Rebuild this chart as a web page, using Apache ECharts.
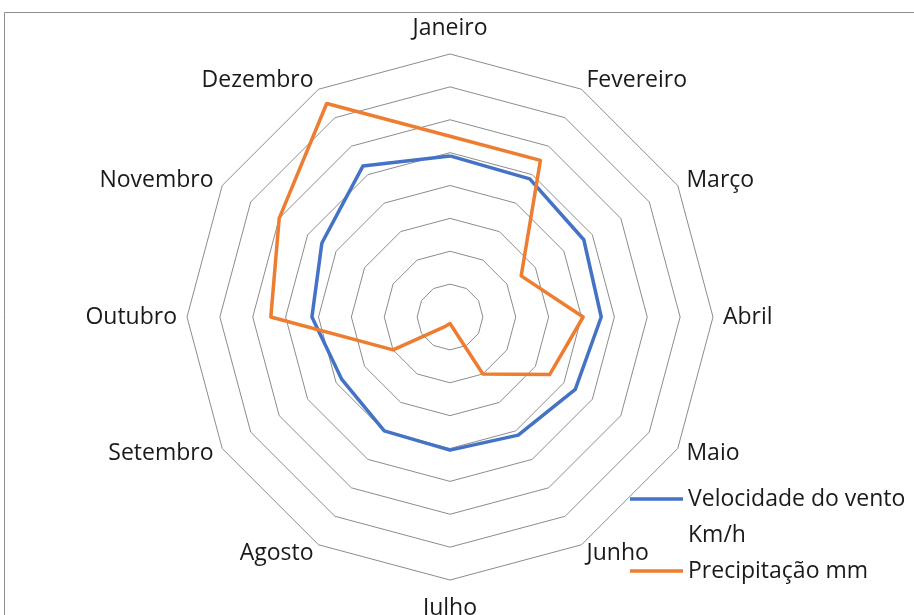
<!DOCTYPE html>
<html>
<head>
<meta charset="utf-8">
<script src="https://cdn.jsdelivr.net/npm/echarts@6/dist/echarts.min.js"></script>
<style>
  html, body { margin: 0; padding: 0; background: #fff; }
  #chart { width: 914px; height: 615px; }
</style>
</head>
<body>
<div id="chart"></div>
<script>
/* Meses na ordem do gráfico (sentido horário a partir do topo) */
const months = ['Janeiro', 'Fevereiro', 'Março', 'Abril', 'Maio', 'Junho',
  'Julho', 'Agosto', 'Setembro', 'Outubro', 'Novembro', 'Dezembro'];

const windName = 'Velocidade do vento Km/h';
const rainName = 'Precipitação mm';

const windValues = [98, 97, 94, 92, 88, 83, 81, 80, 76, 84, 90, 106];
const rainValues = [110, 110, 50, 81, 70, 40, 4, 7, 40, 109, 120, 150];

const axisMax = 160;

/* O radar do ECharts gira no sentido anti-horário: invertemos a ordem */
const order = [0].concat(months.map((_, i) => i).slice(1).reverse());
const pick = (arr) => order.map((i) => arr[i]);

const chart = echarts.init(document.getElementById('chart'), null, { renderer: 'canvas' });

const textColor = '#1a1a1a';
const font = '"Open Sans", "Noto Sans", sans-serif';

chart.setOption({
  backgroundColor: '#ffffff',
  animation: false,
  graphic: [{
    type: 'rect',
    silent: true,
    shape: { x: 4.5, y: 12.5, width: 1000, height: 1000 },
    style: { fill: 'none', stroke: '#8c8c8c', lineWidth: 1 }
  }],
  legend: {
    orient: 'vertical',
    left: 630,
    top: 445,
    padding: 0,
    itemGap: 0,
    itemWidth: 53,
    itemHeight: 3.5,
    icon: 'rect',
    /* linha vazia no topo para alinhar a 1ª linha do texto com o ícone */
    formatter: (name) => name === windName ? '\n' + name.replace(' Km/h', '\nKm/h') : name,
    textStyle: { color: textColor, fontFamily: font, fontSize: 23, lineHeight: 36 },
    data: [windName, rainName]
  },
  radar: {
    center: [450, 317],
    radius: 263,
    shape: 'polygon',
    splitNumber: 8,
    indicator: pick(months).map((m) => ({ name: m, min: 0, max: axisMax })),
    axisName: {
      color: textColor,
      fontFamily: font,
      fontSize: 23,
      formatter: (name) => {
        if (name === 'Janeiro') return '{up|' + name + '}';
        if (name === 'Julho') return '{down|' + name + '}';
        return name;
      },
      rich: {
        up: { fontFamily: font, fontSize: 23, color: textColor, padding: [0, 0, 4, 0] },
        down: { fontFamily: font, fontSize: 23, color: textColor, padding: [7, 0, 0, 0] }
      }
    },
    nameGap: 10,
    axisLine: { show: false },
    axisTick: { show: false },
    axisLabel: { show: false },
    splitArea: { show: false },
    splitLine: { lineStyle: { color: '#8c8c8c', width: 1 } }
  },
  series: [{
    type: 'radar',
    symbol: 'none',
    data: [
      {
        name: windName,
        value: pick(windValues),
        itemStyle: { color: '#4472C4' },
        lineStyle: { color: '#4472C4', width: 3.5 }
      },
      {
        name: rainName,
        value: pick(rainValues),
        itemStyle: { color: '#ED7D31' },
        lineStyle: { color: '#ED7D31', width: 3.5 }
      }
    ]
  }]
});
</script>
</body>
</html>
